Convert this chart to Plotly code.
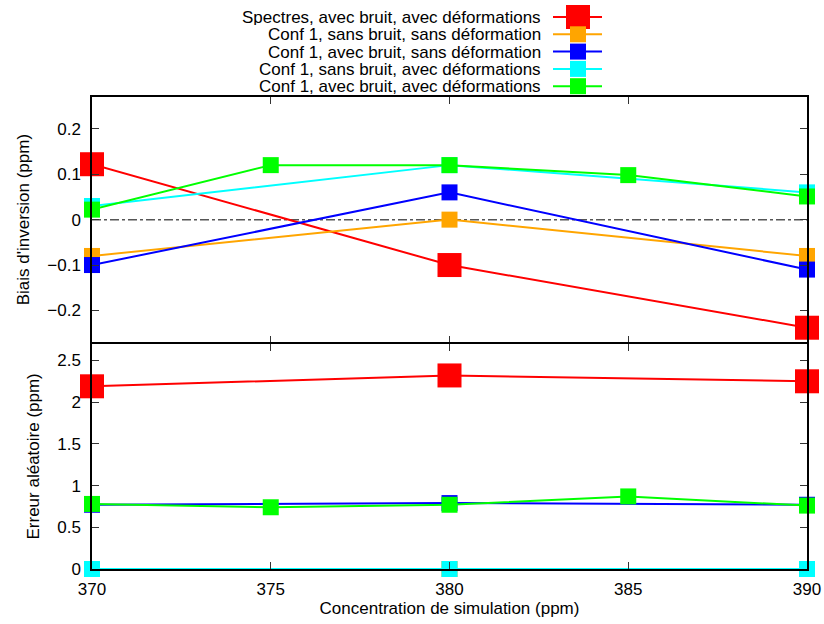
import plotly.graph_objects as go
from plotly.subplots import make_subplots

noms = [
    "Spectres, avec bruit, avec déformations",
    "Conf 1, sans bruit, sans déformation",
    "Conf 1, avec bruit, sans déformation",
    "Conf 1, sans bruit, avec déformations",
    "Conf 1, avec bruit, avec déformations",
]
couleurs = ["#ff0000", "#ffa500", "#0000ff", "#00ffff", "#00ff00"]
tailles = [24, 16, 16, 16, 16]

# concentrations (ppm)
x_spectres = [370, 380, 390]
x_conf1 = [370, 380, 390]
x_conf1_bd = [370, 375, 380, 385, 390]

# biais d'inversion (ppm)
biais_spectres = [0.122, -0.1, -0.238]
biais_sb_sd = [-0.08, 0.0, -0.08]
biais_ab_sd = [-0.1, 0.06, -0.11]
biais_sb_ad = [0.03, 0.12, 0.06]
biais_ab_ad = [0.022, 0.12, 0.12, 0.098, 0.051]

# erreur aléatoire (ppm)
err_spectres = [2.19, 2.32, 2.25]
err_sb_sd = [0.0, 0.0, 0.0]
err_ab_sd = [0.77, 0.79, 0.77]
err_sb_ad = [0.0, 0.0, 0.0]
err_ab_ad = [0.78, 0.74, 0.77, 0.87, 0.76]

xs = [x_spectres, x_conf1, x_conf1, x_conf1, x_conf1_bd]
biais = [biais_spectres, biais_sb_sd, biais_ab_sd, biais_sb_ad, biais_ab_ad]
erreurs = [err_spectres, err_sb_sd, err_ab_sd, err_sb_ad, err_ab_ad]

fig = make_subplots(rows=2, cols=1, shared_xaxes=True, vertical_spacing=0,
                    row_heights=[246, 226])

for i in range(5):
    for row, ys in ((1, biais[i]), (2, erreurs[i])):
        fig.add_trace(go.Scatter(
            x=xs[i], y=ys, mode="lines+markers", name=noms[i],
            line=dict(color=couleurs[i], width=2),
            marker=dict(symbol="square", size=tailles[i], color=couleurs[i],
                        line=dict(width=0)),
            cliponaxis=False, showlegend=False,
        ), row=row, col=1)

# ligne zéro
fig.add_shape(type="line", xref="x domain", yref="y", x0=0, x1=1, y0=0, y1=0,
              line=dict(color="#555555", width=1.5, dash="dashdot"), layer="below")

# légende façon gnuplot (positions en pixels)
ML, MT, PW, PH = 92, 97, 715, 472
for i in range(5):
    ypx = 17 + i * 17.3
    yp = 1 + (MT - ypx) / PH
    fig.add_annotation(text=noms[i], xref="paper", yref="paper", x=(542 - ML) / PW, y=yp,
                       xanchor="right", yanchor="middle", showarrow=False,
                       height=16, valign="middle", borderpad=0,
                       font=dict(size=17, color="black"))
    fig.add_shape(type="line", xref="paper", yref="paper",
                  x0=(553 - ML) / PW, x1=(602 - ML) / PW, y0=yp, y1=yp,
                  line=dict(color=couleurs[i], width=2))
    h = tailles[i] / 2
    fig.add_shape(type="rect", xref="paper", yref="paper",
                  x0=(578 - h - ML) / PW, x1=(578 + h - ML) / PW,
                  y0=yp - h / PH, y1=yp + h / PH,
                  fillcolor=couleurs[i], line=dict(width=0))

axe = dict(showline=True, linecolor="black", linewidth=1.5, mirror="ticks",
           ticks="inside", ticklen=7, tickcolor="#333333", showgrid=False,
           zeroline=False, tickfont=dict(size=17, color="black"))

fig.update_xaxes(range=[370, 390], dtick=5, **axe)
fig.update_xaxes(showticklabels=False, row=1, col=1)
fig.update_xaxes(title=dict(text="Concentration de simulation (ppm)",
                            font=dict(size=17, color="black"), standoff=4),
                 ticklabelstandoff=4, row=2, col=1)
fig.update_yaxes(range=[-0.27, 0.27], dtick=0.1, tickformat=".1~f",
                 title=dict(text="Biais d'inversion (ppm)", font=dict(size=17, color="black"),
                            standoff=13),
                 ticklabelstandoff=6, row=1, col=1, **axe)
fig.update_yaxes(range=[0, 2.7], dtick=0.5,
                 title=dict(text="Erreur aléatoire (ppm)", font=dict(size=17, color="black"),
                            standoff=13),
                 ticklabelstandoff=6, row=2, col=1, **axe)

# les deux cadres partagent la même ligne au milieu
fig.update_layout(yaxis=dict(domain=[226.75 / PH, 1]), yaxis2=dict(domain=[0, 225.25 / PH]))

fig.update_layout(
    width=824, height=624,
    margin=dict(l=ML, r=824 - ML - PW, t=MT, b=624 - MT - PH, autoexpand=False),
    plot_bgcolor="white", paper_bgcolor="white",
    font=dict(family="Liberation Sans, Arial, sans-serif", size=17, color="black"),
)

fig.write_html("out.html", config={"displayModeBar": False},
               post_script="document.body.style.margin='0';document.body.style.overflow='hidden';")
